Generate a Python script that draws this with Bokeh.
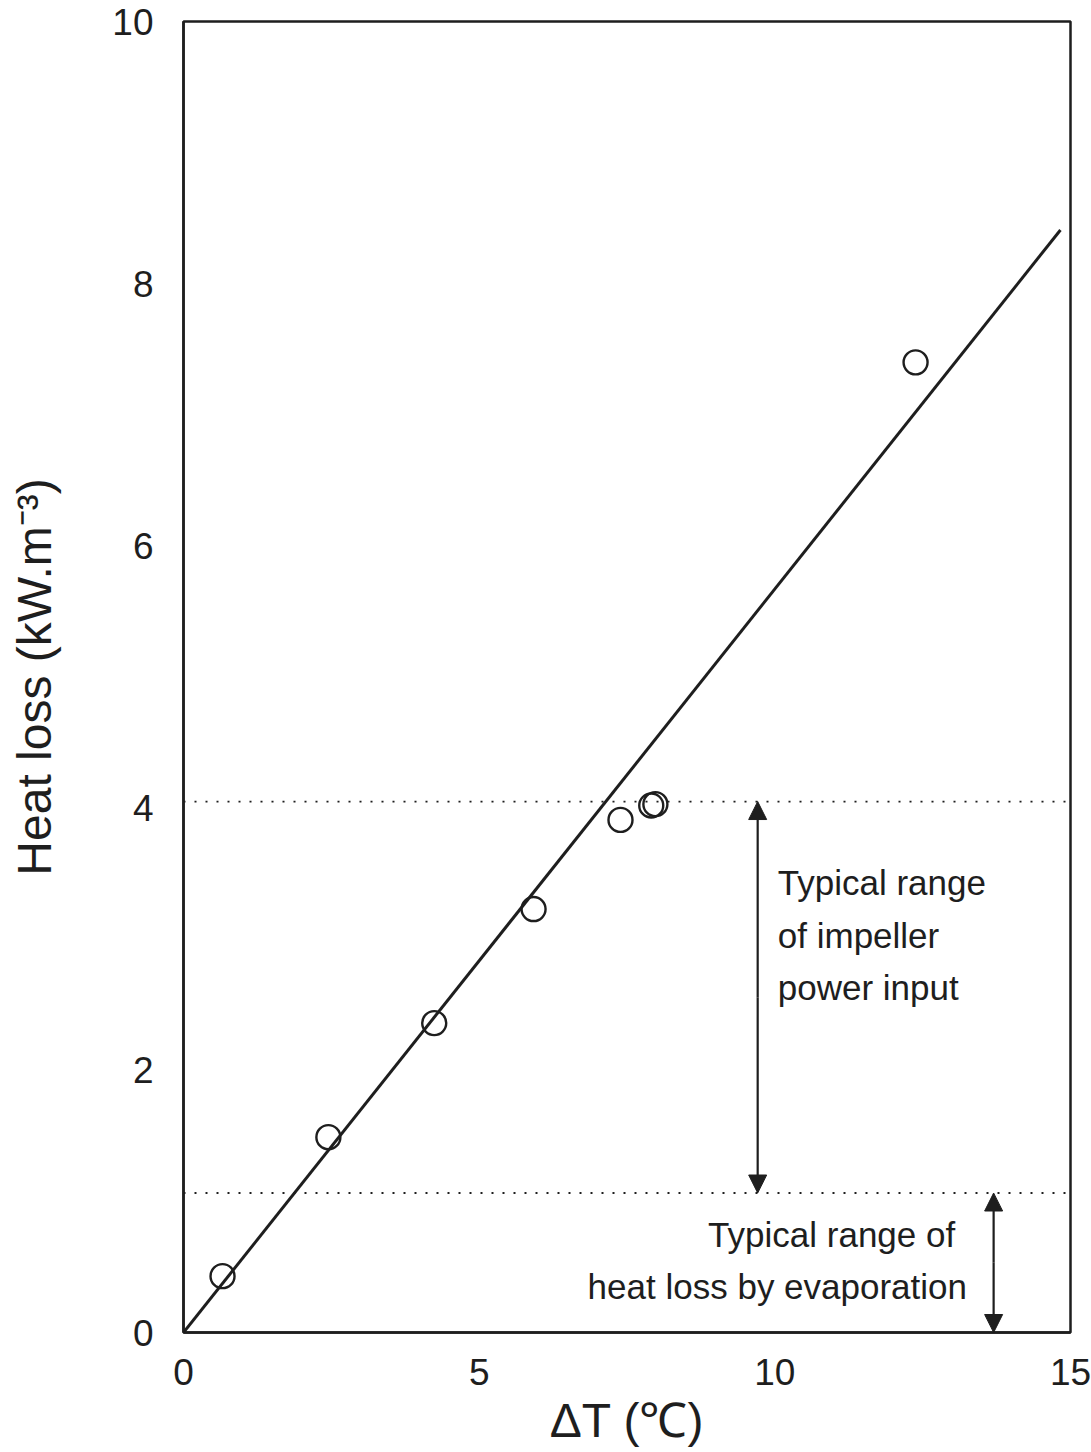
from bokeh.plotting import figure
from bokeh.models import Range1d, Span, Arrow, NormalHead, Label, FixedTicker
from bokeh.embed import file_html
from bokeh.resources import INLINE

# Data
dt = [0.66, 2.45, 4.24, 5.92, 7.39, 7.91, 7.98, 12.38]
heat_loss = [0.43, 1.49, 2.36, 3.23, 3.91, 4.02, 4.03, 7.40]
fit_x = [0.0, 14.83]
fit_y = [0.0, 8.41]
impeller_range = [1.064, 4.05]
evap_range = [0.0, 1.064]
impeller_arrow_x = 9.71
evap_arrow_x = 13.70
x_ticks = [0, 5, 10, 15]
y_ticks = [0, 2, 4, 6, 8, 10]

FONT = "Liberation Sans"
INK = "#1e1e1e"

p = figure(width=1091, height=1452, output_backend="svg", toolbar_location=None,
           x_range=Range1d(0, 15), y_range=Range1d(0, 10),
           min_border_left=183, min_border_right=21, min_border_top=21, min_border_bottom=120)
p.background_fill_color = "white"
p.border_fill_color = "white"
p.grid.visible = False
p.outline_line_color = INK
p.outline_line_width = 2.5

p.xaxis.ticker = FixedTicker(ticks=x_ticks)
p.yaxis.ticker = FixedTicker(ticks=y_ticks)
for ax in (p.xaxis[0], p.yaxis[0]):
    ax.axis_line_color = INK
    ax.axis_line_width = 2.5
    ax.major_tick_line_color = None
    ax.minor_tick_line_color = None
    ax.major_label_text_font = FONT
    ax.major_label_text_font_size = "37px"
    ax.major_label_text_color = INK
    ax.axis_label_text_font = FONT
    ax.axis_label_text_font_size = "48px"
    ax.axis_label_text_font_style = "normal"
    ax.axis_label_text_color = INK

p.xaxis.axis_label = "ΔT (℃)"
p.xaxis.major_label_standoff = 20
p.xaxis.axis_label_standoff = 6
p.yaxis.axis_label = "Heat loss (kW.m⁻³)"
p.yaxis.major_label_standoff = 24
p.yaxis.axis_label_standoff = 48

# dotted reference lines
for yv in (impeller_range[1], impeller_range[0]):
    p.add_layout(Span(location=yv, dimension="width", line_color=INK,
                      line_width=1.8, line_dash="2 9"))

# fit line
p.line(fit_x, fit_y, line_color=INK, line_width=3)

# data points
p.scatter(dt, heat_loss, marker="circle", size=24, fill_color=None,
          line_color=INK, line_width=2.4)

# arrows
def dbl_arrow(x, y0, y1):
    for a, b in ((y0, y1), (y1, y0)):
        p.add_layout(Arrow(x_start=x, y_start=(a + b) / 2, x_end=x, y_end=b,
                           line_color=INK, line_width=2.2,
                           end=NormalHead(size=18, fill_color=INK, line_color=INK, line_width=1)))

dbl_arrow(impeller_arrow_x, impeller_range[0], impeller_range[1])
dbl_arrow(evap_arrow_x, evap_range[0], evap_range[1])

for i, t in enumerate(["Typical range", "of impeller", "power input"]):
    p.add_layout(Label(x=10.05, y=3.43 - i * 0.40, text=t, text_font=FONT,
                       text_font_size="35px", text_color=INK,
                       text_baseline="middle", text_align="left"))

p.add_layout(Label(x=13.05, y=0.75, text="Typical range of", text_font=FONT,
                   text_font_size="35px", text_color=INK,
                   text_baseline="middle", text_align="right"))
p.add_layout(Label(x=13.25, y=0.35, text="heat loss by evaporation", text_font=FONT,
                   text_font_size="35px", text_color=INK,
                   text_baseline="middle", text_align="right"))

open("out.html", "w").write(file_html(p, INLINE))
